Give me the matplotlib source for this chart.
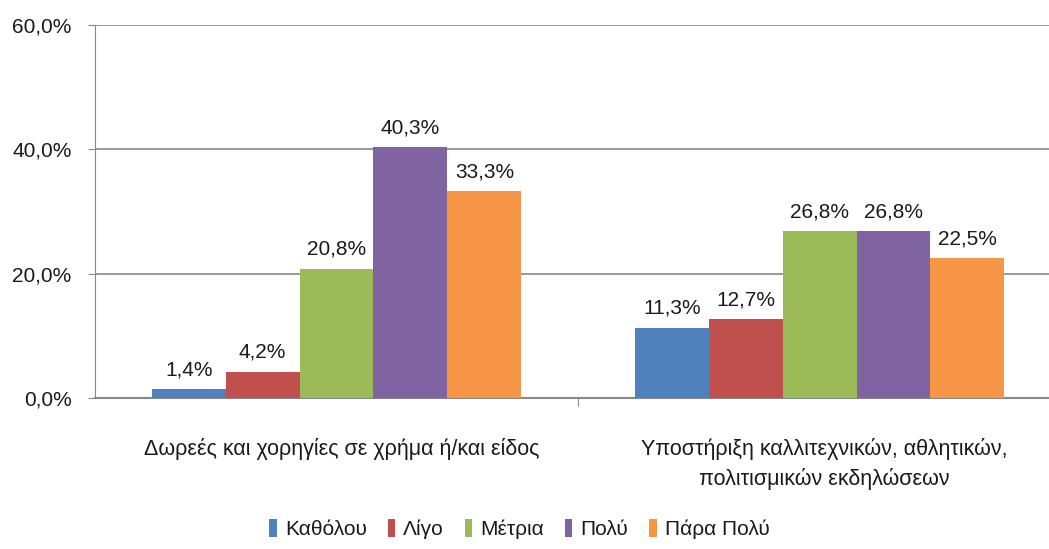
import matplotlib
matplotlib.use('Agg')
import matplotlib.pyplot as plt
import numpy as np

categories = ['Δωρεές και χορηγίες σε χρήμα ή/και είδος',
              'Υποστήριξη καλλιτεχνικών, αθλητικών,\nπολιτισμικών εκδηλώσεων']
series = ['Καθόλου', 'Λίγο', 'Μέτρια', 'Πολύ', 'Πάρα Πολύ']
values = [[1.4, 11.3],
          [4.2, 12.7],
          [20.8, 26.8],
          [40.3, 26.8],
          [33.3, 22.5]]
colors = ['#4F81BD', '#C0504D', '#9BBB59', '#8064A2', '#F79646']

plt.rcParams['font.family'] = ['Liberation Sans', 'DejaVu Sans']
txt = '#1a1a1a'

fig = plt.figure(figsize=(10.49, 5.49), dpi=100)
ax = fig.add_axes([95/1049, 1-398/549, 1-95/1049, (398-25)/549])

w = 0.153
x = np.arange(len(categories))
for i, (s, v, c) in enumerate(zip(series, values, colors)):
    pos = x + (i - 2) * w
    ax.bar(pos, v, w, color=c, label=s, zorder=3)
    for p, val in zip(pos, v):
        ax.text(p, val + 1.6, ('%.1f%%' % val).replace('.', ','),
                ha='center', va='bottom', fontsize=15, color=txt)

ax.set_xlim(-0.5, 1.475)
ax.set_ylim(0, 60)
ax.set_yticks([0, 20, 40, 60])
ax.set_yticklabels(['0,0%', '20,0%', '40,0%', '60,0%'], fontsize=15, color=txt)
ax.yaxis.grid(True, color='#888888', linewidth=1.2, zorder=0)
ax.set_xticks([0.5])
ax.set_xticklabels([''])
ax.tick_params(axis='x', length=6, color='#888888')
ax.tick_params(axis='y', length=5, color='#888888', pad=12)
for sp in ['top', 'right']:
    ax.spines[sp].set_visible(False)
ax.spines['left'].set_color('#888888')
ax.spines['bottom'].set_color('#888888')
ax.spines['bottom'].set_linewidth(1.5)

for xi, cat in zip(x, categories):
    ax.text(xi + 0.01, -6.5, cat, ha='center', va='top', fontsize=15.5,
            color=txt, linespacing=1.45)

leg = ax.legend(loc='upper center', bbox_to_anchor=(0.445, -0.275), ncol=5,
                frameon=False, fontsize=15,
                handlelength=0.35, handleheight=0.9,
                handletextpad=0.4, columnspacing=1.0)
for t in leg.get_texts():
    t.set_color(txt)

fig.savefig('out.png', dpi=100)
